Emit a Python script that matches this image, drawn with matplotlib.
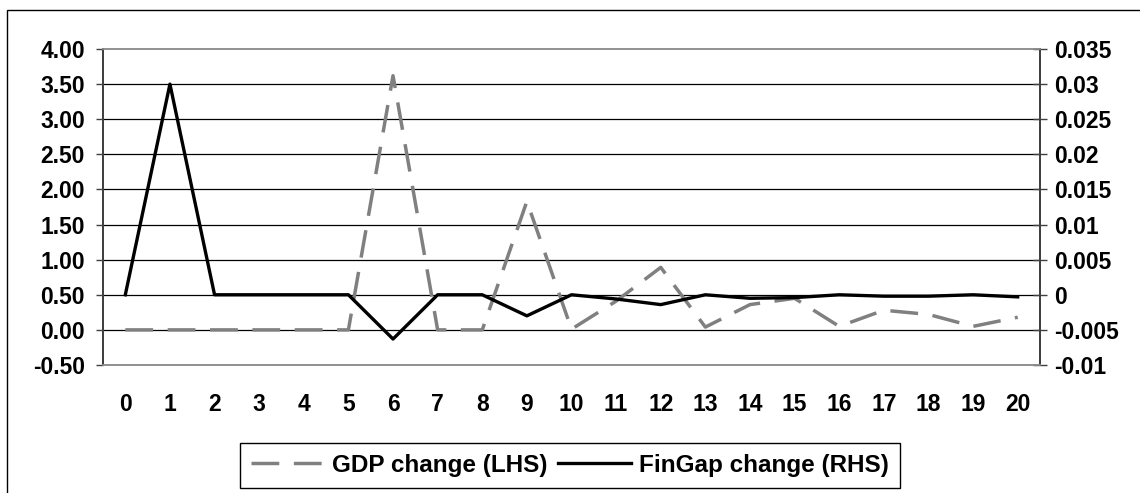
import matplotlib.pyplot as plt
from matplotlib.patches import Rectangle

# periods on the x axis
periods = list(range(21))

# GDP change, left axis
gdp_change = [0.00, 0.00, 0.00, 0.00, 0.00, 0.00, 3.62, 0.00, 0.00, 1.83,
              0.01, 0.41, 0.89, 0.04, 0.36, 0.45, 0.05, 0.28, 0.22, 0.05, 0.18]

# FinGap change, right axis
fingap_change = [0.0, 0.030, 0.0, 0.0, 0.0, 0.0, -0.0063, 0.0, 0.0, -0.0030,
                 0.0, -0.0006, -0.0014, 0.0, -0.0005, -0.0004, 0.0, -0.0002,
                 -0.0002, 0.0, -0.0003]

left_ticks = [-0.5, 0.0, 0.5, 1.0, 1.5, 2.0, 2.5, 3.0, 3.5, 4.0]
left_labels = ["%.2f" % v for v in left_ticks]
right_ticks = [-0.01, -0.005, 0, 0.005, 0.01, 0.015, 0.02, 0.025, 0.03, 0.035]
right_labels = ["-0.01", "-0.005", "0", "0.005", "0.01", "0.015", "0.02",
                "0.025", "0.03", "0.035"]

plt.rcParams["font.family"] = ["Liberation Sans", "DejaVu Sans"]
plt.rcParams["font.weight"] = "bold"

fig = plt.figure(figsize=(11.4, 4.93), dpi=100)
ax = fig.add_axes([103 / 1140, 1 - 365 / 493, (1040 - 103) / 1140, (365 - 49) / 493])
ax2 = ax.twinx()

# outer chart border (runs off the right and bottom edges)
fig.patches.append(Rectangle((7 / 1140, -0.1), 1.2, 1 - 10 / 493 + 0.1,
                             transform=fig.transFigure, fill=False,
                             edgecolor="black", linewidth=1.0))

# horizontal gridlines
for v in left_ticks[1:-1]:
    ax.axhline(v, color="black", linewidth=0.9, zorder=1)

l1, = ax.plot(periods, gdp_change, color="#808080", linewidth=2.5,
              dashes=(8, 4.2), label="GDP change (LHS)", zorder=3)
l2, = ax2.plot(periods, fingap_change, color="black", linewidth=2.4,
               label="FinGap change (RHS)", zorder=3)

ax.set_xlim(-0.5, 20.5)
ax.set_ylim(-0.5, 4.0)
ax2.set_ylim(-0.01, 0.035)

ax.set_xticks(periods)
ax.set_xticklabels([str(p) for p in periods])
ax.set_yticks(left_ticks)
ax.set_yticklabels(left_labels)
ax2.set_yticks(right_ticks)
ax2.set_yticklabels(right_labels)

for a in (ax, ax2):
    a.spines["top"].set_color("#909090")
    a.spines["bottom"].set_color("#909090")
    a.spines["top"].set_linewidth(1.2)
    a.spines["bottom"].set_linewidth(1.2)
    a.spines["left"].set_color("#404040")
    a.spines["right"].set_color("#404040")
    a.spines["left"].set_linewidth(1.3)
    a.spines["right"].set_linewidth(1.3)

ax.tick_params(axis="x", length=0, pad=20, labelsize=16.5)
ax.tick_params(axis="y", direction="out", length=5, width=1, color="#404040",
               pad=8, labelsize=16.5)
ax2.tick_params(axis="y", direction="inout", length=10, width=1, color="#404040",
                pad=5, labelsize=16.5)

leg = fig.legend(handles=[l1, l2], loc="center", ncol=2,
                 bbox_to_anchor=(570 / 1140, 1 - 465.5 / 493),
                 fontsize=17.5, frameon=True, fancybox=False, framealpha=1,
                 edgecolor="black", handlelength=3.0, handletextpad=0.35,
                 columnspacing=0.4, borderpad=0.45)
leg.get_frame().set_linewidth(1.0)

fig.savefig("out.png", dpi=100)
